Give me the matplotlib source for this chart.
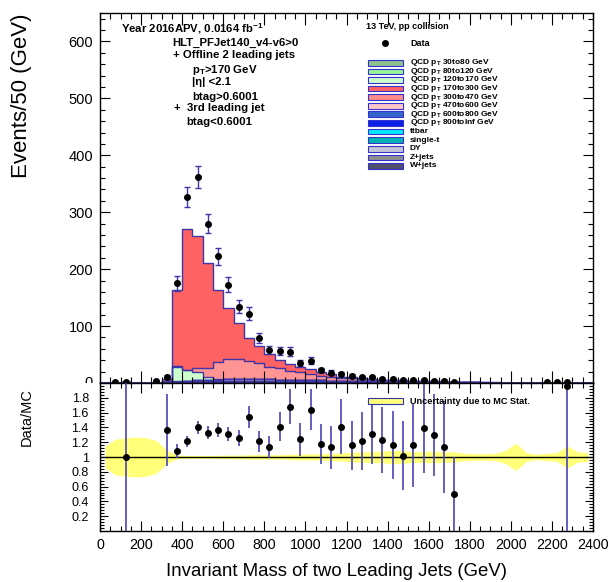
import numpy as np
import matplotlib
matplotlib.use("Agg")
import matplotlib.pyplot as plt
from matplotlib.patches import Rectangle
from matplotlib.lines import Line2D
from matplotlib.ticker import MultipleLocator, FuncFormatter
from matplotlib.transforms import Bbox, TransformedBbox

plt.rcParams["font.family"] = ["Liberation Sans", "DejaVu Sans"]
plt.rcParams["mathtext.fontset"] = "custom"
plt.rcParams["mathtext.rm"] = "Liberation Sans"
plt.rcParams["mathtext.bf"] = "Liberation Sans:bold"
plt.rcParams["mathtext.it"] = "Liberation Sans:italic"

W, H = 610, 582

# --- binning: 50 GeV bins from 0 to 2400 ---
bin_edges = np.arange(0, 2401, 50)
bin_centers = 0.5 * (bin_edges[:-1] + bin_edges[1:])

# --- data counts per bin ---
data_counts = [0, 2, 1, 0, 0, 4, 11, 175, 327, 362, 280, 223,
               173, 134, 122, 79, 58, 56, 55, 35, 39, 22, 18, 16,
               13, 10, 10, 7, 7, 5, 5, 5, 4, 3, 1, 0,
               0, 0, 0, 0, 0, 0, 0, 1, 1, 1, 0, 0]

# --- MC samples (events per bin) ---
qcd_30to80 = [0.05, 0.3, 0.4, 0.1, 0.05, 0.05, 0, 0, 0, 0, 0, 0,
              0, 0, 0, 0, 0, 0, 0, 0, 0, 0, 0, 0,
              0, 0, 0, 0, 0, 0, 0, 0, 0, 0, 0, 0,
              0, 0, 0, 0, 0, 0, 0, 0, 0, 0, 0, 0]
qcd_80to120 = [0, 0.1, 0.5, 0.3, 0.2, 0.1, 0.3, 0.5, 0.2, 0, 0, 0,
               0, 0, 0, 0, 0, 0, 0, 0, 0, 0, 0, 0,
               0, 0, 0, 0, 0, 0, 0, 0, 0, 0, 0, 0,
               0, 0, 0, 0, 0, 0, 0, 0, 0, 0, 0, 0]
qcd_120to170 = [0, 0, 0.1, 0.2, 0.25, 0.6, 3.0, 26.0, 18.0, 15.0, 5.0, 1.0,
                0.5, 0.2, 0, 0, 0, 0, 0, 0, 0, 0, 0, 0,
                0, 0, 0, 0, 0, 0, 0, 0, 0, 0, 0, 0,
                0, 0, 0, 0, 0, 0, 0, 0, 0, 0, 0, 0]
qcd_170to300 = [0, 0, 0, 0, 0, 0, 4.2, 133.5, 247, 233, 184, 127,
                89, 64, 40, 30.5, 22, 14.3, 11.1, 9.3, 8.0, 5.6, 4.9, 2.0,
                3.2, 1.2, 1.4, 0.5, 1.0, 0.6, 0.5, 0.3, 0.3, 0.2, 0.2, 0.15,
                0.1, 0.07, 0.05, 0.03, 0.02, 0.02, 0, 0, 0, 0, 0, 0]
qcd_300to470 = [0, 0, 0, 0, 0, 0, 0, 0.3, 1.0, 6.4, 16.8, 30.0,
                36.2, 35.1, 32.3, 27.9, 22.4, 19.7, 16.1, 13.5, 11.0, 8.6, 7.0, 5.6,
                4.5, 3.9, 3.3, 2.65, 2.55, 2.2, 1.85, 1.6, 1.2, 1.05, 0.55, 0.45,
                0.3, 0.2, 0.17, 0.12, 0.06, 0.06, 0.03, 0.02, 0.02, 0.05, 0.03, 0.01]
qcd_470to600 = [0, 0, 0, 0, 0, 0, 0, 0, 0.5, 1.0, 1.5, 2.0,
                2.5, 3.0, 3.2, 3.2, 3.0, 2.8, 2.5, 2.3, 2.1, 1.8, 1.6, 1.4,
                1.3, 1.1, 1.0, 0.9, 0.8, 0.7, 0.6, 0.5, 0.45, 0.4, 0.35, 0.3,
                0.25, 0.2, 0.15, 0.12, 0.1, 0.08, 0.05, 0.03, 0.03, 0.04, 0.02, 0.02]
qcd_600to800 = [0, 0, 0, 0, 0, 0, 0, 1.5, 2.5, 2.5, 2.5, 2.5,
                2.4, 2.2, 2.0, 1.9, 1.8, 1.7, 1.6, 1.5, 1.4, 1.3, 1.2, 1.1,
                1.0, 0.9, 0.8, 0.7, 0.7, 0.6, 0.55, 0.5, 0.45, 0.4, 0.35, 0.3,
                0.3, 0.25, 0.2, 0.2, 0.15, 0.12, 0.1, 0.08, 0.08, 0.1, 0.06, 0.05]
qcd_800toinf = [0, 0, 0, 0, 0, 0, 0, 0.3, 0.5, 0.6, 0.7, 0.8,
                0.9, 1.0, 1.0, 1.1, 1.1, 1.1, 1.1, 1.1, 1.0, 1.0, 1.0, 1.0,
                1.0, 0.9, 0.9, 0.8, 0.8, 0.7, 0.7, 0.6, 0.6, 0.5, 0.5, 0.45,
                0.4, 0.35, 0.3, 0.3, 0.25, 0.2, 0.2, 0.15, 0.15, 0.3, 0.12, 0.1]
ttbar = [0, 0, 0, 0, 0, 0, 0, 0.08, 0.08, 0.08, 0.08, 0.08,
         0.08, 0.08, 0.08, 0.06, 0.06, 0.06, 0.06, 0.06, 0.06, 0.06, 0.03, 0.03,
         0.03, 0.03, 0.03, 0.03, 0.03, 0.02, 0.02, 0.02, 0.02, 0.02, 0.02, 0.01,
         0.01, 0.01, 0.01, 0.01, 0.01, 0.01, 0.01, 0.01, 0.01, 0.01, 0.01, 0.01]
single_t = [0, 0, 0, 0, 0, 0, 0, 0.05, 0.05, 0.05, 0.05, 0.05,
            0.05, 0.05, 0.05, 0.04, 0.04, 0.04, 0.04, 0.04, 0.04, 0.04, 0.02, 0.02,
            0.02, 0.02, 0.02, 0.02, 0.02, 0.01, 0.01, 0.01, 0.01, 0.01, 0.01, 0,
            0, 0, 0, 0, 0, 0, 0, 0, 0, 0, 0, 0]
dy = [0, 0, 0, 0, 0, 0, 0, 0.03, 0.03, 0.03, 0.03, 0.03,
      0.03, 0.03, 0.03, 0.02, 0.02, 0.02, 0.02, 0.02, 0.02, 0.02, 0.01, 0.01,
      0.01, 0.01, 0.01, 0.01, 0.01, 0, 0, 0, 0, 0, 0, 0,
      0, 0, 0, 0, 0, 0, 0, 0, 0, 0, 0, 0]
zjets = [0, 0, 0, 0, 0, 0, 0, 0.2, 0.2, 0.2, 0.2, 0.2,
         0.2, 0.2, 0.2, 0.15, 0.15, 0.15, 0.15, 0.15, 0.15, 0.15, 0.08, 0.08,
         0.08, 0.08, 0.08, 0.08, 0.08, 0.04, 0.04, 0.04, 0.04, 0.04, 0.04, 0.01,
         0.01, 0.01, 0.01, 0.01, 0.01, 0.01, 0.01, 0.01, 0.01, 0.01, 0.01, 0.01]
wjets = [0, 0, 0, 0, 0, 0, 0, 0.14, 0.14, 0.14, 0.14, 0.14,
         0.14, 0.14, 0.14, 0.1, 0.1, 0.1, 0.1, 0.1, 0.1, 0.1, 0.06, 0.06,
         0.06, 0.06, 0.06, 0.06, 0.06, 0.03, 0.03, 0.03, 0.03, 0.03, 0.03, 0.01,
         0.01, 0.01, 0.01, 0.01, 0.01, 0.01, 0.01, 0.01, 0.01, 0.01, 0.01, 0.01]

# --- MC stat. uncertainty (relative half width per bin) ---
mc_stat_unc = [0.15, 0.24, 0.26, 0.27, 0.26, 0.22, 0.09, 0.025, 0.02, 0.02, 0.02, 0.022,
               0.025, 0.025, 0.03, 0.03, 0.03, 0.03, 0.035, 0.04, 0.04, 0.045, 0.05, 0.055,
               0.065, 0.07, 0.075, 0.08, 0.09, 0.085, 0.07, 0.075, 0.08, 0.07, 0.07, 0.05,
               0.045, 0.045, 0.05, 0.09, 0.185, 0.06, 0.035, 0.05, 0.06, 0.15, 0.07, 0.06]

# --- Data/MC ratio points ---
ratio_x = [125, 325, 375, 425, 475, 525, 575, 625, 675, 725, 775, 825, 875, 925, 975,
           1025, 1075, 1125, 1175, 1225, 1275, 1325, 1375, 1425, 1475, 1525, 1575,
           1625, 1675, 1725, 2275]
ratio_val = [1.0, 1.365, 1.08, 1.21, 1.40, 1.33, 1.36, 1.31, 1.26, 1.54, 1.21, 1.14, 1.41,
             1.68, 1.24, 1.64, 1.18, 1.13, 1.41, 1.16, 1.22, 1.31, 1.23, 1.16, 1.02, 1.16,
             1.39, 1.30, 1.135, 0.50, 1.96]
ratio_err = [1.0, 0.48, 0.10, 0.07, 0.09, 0.085, 0.095, 0.10, 0.11, 0.15, 0.14, 0.15, 0.20,
             0.24, 0.22, 0.28, 0.27, 0.29, 0.37, 0.33, 0.39, 0.40, 0.45, 0.46, 0.47, 0.56,
             0.60, 0.55, 0.62, 0.50, 1.96]

# stacking order, bottom -> top
stack = [
    (wjets, "#4f4f6e"),
    (zjets, "#8e8e8e"),
    (dy, "#c6c6d6"),
    (single_t, "#00b4b4"),
    (ttbar, "#00e8ff"),
    (qcd_800toinf, "#0a1eea"),
    (qcd_600to800, "#3565cc"),
    (qcd_470to600, "#ffc8c8"),
    (qcd_30to80, "#8fbf8f"),
    (qcd_80to120, "#99f599"),
    (qcd_120to170, "#ccffcc"),
    (qcd_300to470, "#ff9494"),
    (qcd_170to300, "#ff6262"),
]

# legend entries, top -> bottom
legend_entries = [
    (r"QCD $\mathbf{p}_\mathbf{T}$ 30to80 GeV", "#8fbf8f"),
    (r"QCD $\mathbf{p}_\mathbf{T}$ 80to120 GeV", "#99f599"),
    (r"QCD $\mathbf{p}_\mathbf{T}$ 120to170 GeV", "#ccffcc"),
    (r"QCD $\mathbf{p}_\mathbf{T}$ 170to300 GeV", "#ff6262"),
    (r"QCD $\mathbf{p}_\mathbf{T}$ 300to470 GeV", "#ff8a8a"),
    (r"QCD $\mathbf{p}_\mathbf{T}$ 470to600 GeV", "#ffc8c8"),
    (r"QCD $\mathbf{p}_\mathbf{T}$ 600to800 GeV", "#3565cc"),
    (r"QCD $\mathbf{p}_\mathbf{T}$ 800toInf GeV", "#0a1eea"),
    ("ttbar", "#00e8ff"),
    ("single-t", "#00b4b4"),
    ("DY", "#c6c6d6"),
    ("Z+jets", "#8e8e8e"),
    ("W+jets", "#4f4f6e"),
]

EDGE = "#3d35a8"


def fx(x):
    return x / W


def fy(y):
    return 1 - y / H


fig = plt.figure(figsize=(W / 100, H / 100), dpi=100)
ax1 = fig.add_axes([fx(100), fy(383), (593 - 100) / W, (383 - 13) / H])
ax2 = fig.add_axes([fx(100), fy(531), (593 - 100) / W, (531 - 383) / H])

# --- upper pad: stacked MC + data ---
bottom = np.zeros(len(bin_centers))
for vals, col in stack:
    top = bottom + np.array(vals, dtype=float)
    ax1.stairs(top, bin_edges, baseline=bottom, fill=True, facecolor=col,
               edgecolor="none", zorder=1)
    ax1.stairs(top, bin_edges, baseline=None, color=EDGE, lw=1.0, zorder=1.5)
    bottom = top

data_counts = np.array(data_counts, dtype=float)
has_data = data_counts > 0
ax1.errorbar(bin_centers[has_data], data_counts[has_data],
             yerr=np.sqrt(data_counts[has_data]), fmt="o", color="black",
             ms=4, ecolor=EDGE, elinewidth=1.0, capsize=2.3, capthick=1.0, zorder=3)

ax1.set_xlim(0, 2400)
ax1.set_ylim(0, 650)
ax1.xaxis.set_major_locator(MultipleLocator(200))
ax1.xaxis.set_minor_locator(MultipleLocator(50))
ax1.yaxis.set_major_locator(MultipleLocator(100))
ax1.yaxis.set_minor_locator(MultipleLocator(20))
ax1.yaxis.set_major_formatter(FuncFormatter(lambda v, p: "" if v < 1 else "%d" % v))
ax1.tick_params(which="both", direction="in", top=True, right=True, labelbottom=False)
ax1.tick_params(axis="x", which="major", length=8.5, width=0.8)
ax1.tick_params(axis="x", which="minor", length=4.5, width=0.8)
ax1.tick_params(axis="y", which="major", length=7, width=0.8, labelsize=10.5, pad=5)
ax1.tick_params(axis="y", which="minor", length=3.5, width=0.8)
for s in ax1.spines.values():
    s.set_linewidth(1.0)

# --- lower pad: ratio ---
ax2.fill_between(bin_centers, 1 - np.array(mc_stat_unc), 1 + np.array(mc_stat_unc),
                 color="#ffff7a", lw=0, zorder=1)
ax2.axhline(1.0, color="black", lw=1.0, zorder=2)
ax2.errorbar(ratio_x, ratio_val, yerr=ratio_err, fmt="o", color="black", ms=4,
             ecolor="#4a44b4", elinewidth=1.2, capsize=0, zorder=3)
ax2.set_xlim(0, 2400)
ax2.set_ylim(0, 2)
ax2.xaxis.set_major_locator(MultipleLocator(200))
ax2.xaxis.set_minor_locator(MultipleLocator(50))
ax2.yaxis.set_major_locator(MultipleLocator(0.2))
ax2.yaxis.set_minor_locator(MultipleLocator(0.04))
ax2.yaxis.set_major_formatter(
    FuncFormatter(lambda v, p: "" if (v < 0.1 or v > 1.9) else "%g" % round(v, 1)))
ax2.xaxis.set_major_formatter(FuncFormatter(lambda v, p: "%d" % v))
ax2.tick_params(which="both", direction="in", top=True, right=True)
ax2.tick_params(axis="x", which="major", length=7, width=0.8, labelsize=10.3, pad=5)
ax2.tick_params(axis="x", which="minor", length=3.5, width=0.8)
ax2.tick_params(axis="y", which="major", length=5.5, width=0.8, labelsize=9, pad=8)
ax2.tick_params(axis="y", which="minor", length=2.8, width=0.8)
for s in ax2.spines.values():
    s.set_linewidth(1.0)

# upper pad "0" label, lower half hidden under the ratio pad
zero_lbl = fig.text(fx(93), fy(383), "0", ha="right", va="center", fontsize=10.5)
zero_lbl.set_clip_box(TransformedBbox(Bbox([[0, fy(383)], [1, 1]]), fig.transFigure))
zero_lbl.set_clip_on(True)

# --- axis titles ---
fig.text(fx(22), fy(178), "Events/50 (GeV)", rotation=90, ha="center", va="bottom",
         fontsize=16)
fig.text(fx(27), fy(388), "Data/MC", rotation=90, ha="center", va="top", fontsize=10.5)
fig.text(fx(337), fy(572), "Invariant Mass of two Leading Jets (GeV)", ha="center",
         va="center", fontsize=13.4)

# --- selection text ---
sel_text = [
    (r"Year 2016APV, 0.0164 fb$^{\mathbf{-1}}$", 120.7, 28.3),
    ("HLT_PFJet140_v4-v6>0", 172.7, 43.3),
    ("+ Offline 2 leading jets", 173, 55),
    (r"$\mathbf{p}_\mathbf{T}$>170 GeV", 191.7, 70),
    ("|η| <2.1", 191.7, 81.7),
    ("btag>0.6001", 192.7, 96.7),
    ("+  3rd leading jet", 174, 108.3),
    ("btag<0.6001", 186, 121.7),
]
for txt, x, y in sel_text:
    fig.text(fx(x), fy(y), txt, ha="left", va="center", fontsize=8.2, fontweight="bold")

fig.text(fx(366), fy(26.7), "13 TeV, pp collision", ha="left", va="center",
         fontsize=6.5, fontweight="bold")

# --- legend (upper pad) ---
fig.add_artist(Line2D([fx(385)], [fy(43.3)], marker="o", color="black", ms=4,
                      transform=fig.transFigure))
fig.text(fx(410), fy(43.3), "Data", ha="left", va="center", fontsize=6.5,
         fontweight="bold")
for i, (lbl, col) in enumerate(legend_entries):
    yc = 62.7 + 8.6 * i
    fig.add_artist(Rectangle((fx(368.3), fy(yc + 2.8)), 34.4 / W, 5.6 / H,
                             transform=fig.transFigure, facecolor=col,
                             edgecolor="#3333cc", lw=0.8))
    fig.text(fx(410), fy(yc), lbl, ha="left", va="center", fontsize=6.0,
             fontweight="bold")

# --- legend (ratio pad) ---
fig.add_artist(Rectangle((fx(368.3), fy(404.3)), 34.4 / W, 6.6 / H,
                         transform=fig.transFigure, facecolor="#ffff7a",
                         edgecolor="#3333aa", lw=0.8))
fig.text(fx(410), fy(401), "Uncertainty due to MC Stat.", ha="left", va="center",
         fontsize=6.6, fontweight="bold")

fig.savefig("out.png", dpi=100)
